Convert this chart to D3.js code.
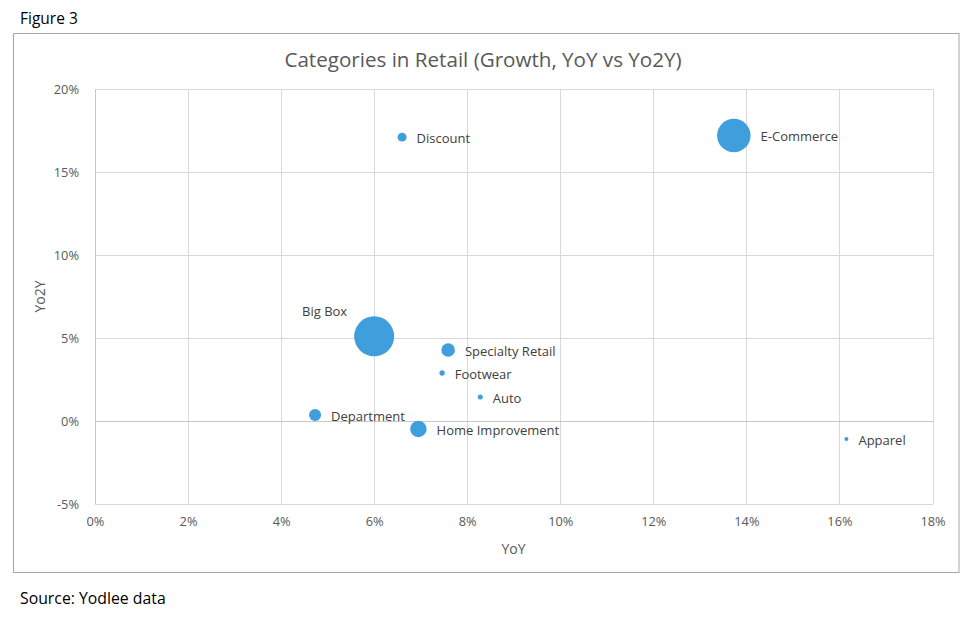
<!DOCTYPE html>
<html><head><meta charset="utf-8">
<script src="https://cdn.jsdelivr.net/npm/d3@7/dist/d3.min.js"></script>
<style>
html,body{margin:0;padding:0;background:#fff;}
svg text{font-family:"Open Sans","Noto Sans",sans-serif;}
</style></head>
<body><svg id="chart" width="980" height="622"></svg>
<script>
// ---- data ----
const categories = ["Discount","E-Commerce","Big Box","Specialty Retail","Footwear","Auto","Department","Home Improvement","Apparel"];
const yoy  = [6.6, 13.73, 6.0, 7.59, 7.46, 8.28, 4.73, 6.95, 16.15];   // %
const yo2y = [17.1, 17.2, 5.1, 4.28, 2.89, 1.45, 0.36, -0.48, -1.08];   // %
const bubbleSize = [5, 70, 100, 11.6, 1.8, 1.6, 9, 17, 1];
const xTicks = [0,2,4,6,8,10,12,14,16,18];
const yTicks = [-5,0,5,10,15,20];
const labelAboveLeft = ["Big Box"];

const data = categories.map((c,i)=>({name:c,x:yoy[i],y:yo2y[i],s:bubbleSize[i]}));

const svg = d3.select("#chart");
const plot = {left:95, right:932.5, top:89, bottom:504};
const x = d3.scaleLinear().domain([0,18]).range([plot.left, plot.right]);
const y = d3.scaleLinear().domain([-5,20]).range([plot.bottom, plot.top]);
const r = d3.scaleSqrt().domain([0,100]).range([0,20]);
const grey = "#595959";

// outer texts
svg.append("text").attr("x",20).attr("y",24).attr("font-size",15.5).attr("fill","#000").text("Figure 3");
svg.append("text").attr("x",20).attr("y",604).attr("font-size",15.8).attr("fill","#000").text("Source: Yodlee data");

// chart border
svg.append("rect").attr("x",13.5).attr("y",33.5).attr("width",945.5).attr("height",539)
  .attr("fill","#fff").attr("stroke","#a6a6a6").attr("stroke-width",1);

// title
svg.append("text").attr("x",483).attr("y",66.5).attr("text-anchor","middle")
  .attr("font-size",20.6).attr("fill",grey).text("Categories in Retail (Growth, YoY vs Yo2Y)");

// gridlines
const gx = svg.append("g")
  .attr("transform",`translate(0,${plot.bottom})`)
  .call(d3.axisBottom(x).tickValues(xTicks).tickSize(-(plot.bottom-plot.top)).tickFormat(d=>d+"%").tickPadding(13));
gx.select(".domain").remove();
gx.selectAll(".tick line").attr("stroke","#d9d9d9").attr("shape-rendering","crispEdges");
gx.selectAll(".tick text").attr("fill",grey).attr("font-size",12.8);

const gy = svg.append("g")
  .attr("transform",`translate(${plot.left},0)`)
  .call(d3.axisLeft(y).tickValues(yTicks).tickSize(-(plot.right-plot.left)).tickFormat(d=>d+"%").tickPadding(16));
gy.select(".domain").remove();
gy.selectAll(".tick line").attr("stroke",d=>d===0?"#c8c8c8":"#d9d9d9").attr("shape-rendering","crispEdges");
gy.selectAll(".tick text").attr("fill",grey).attr("font-size",12.8);

// left axis line
svg.append("line").attr("x1",plot.left).attr("x2",plot.left).attr("y1",plot.top).attr("y2",plot.bottom)
  .attr("stroke","#c8c8c8").attr("shape-rendering","crispEdges");

// axis titles
svg.append("text").attr("x",513.5).attr("y",554).attr("text-anchor","middle").attr("font-size",14).attr("fill",grey).text("YoY");
svg.append("text").attr("transform","translate(45,296.5) rotate(-90)").attr("text-anchor","middle").attr("font-size",14).attr("fill",grey).text("Yo2Y");

// bubbles
const sorted = data.slice().sort((a,b)=>b.s-a.s);
svg.append("g").selectAll("circle").data(sorted).join("circle")
  .attr("cx",d=>x(d.x)).attr("cy",d=>y(d.y)).attr("r",d=>r(d.s))
  .attr("fill","#3f9fdd");

// labels
svg.append("g").selectAll("text").data(data).join("text")
  .attr("font-size",13).attr("fill","#404040")
  .attr("dominant-baseline","central")
  .attr("x",d=>labelAboveLeft.includes(d.name) ? x(d.x)-r(d.s)-7 : x(d.x)+r(d.s)+10)
  .attr("y",d=>labelAboveLeft.includes(d.name) ? y(d.y)-25 : y(d.y)+1)
  .attr("text-anchor",d=>labelAboveLeft.includes(d.name) ? "end" : "start")
  .text(d=>d.name);
</script></body></html>
